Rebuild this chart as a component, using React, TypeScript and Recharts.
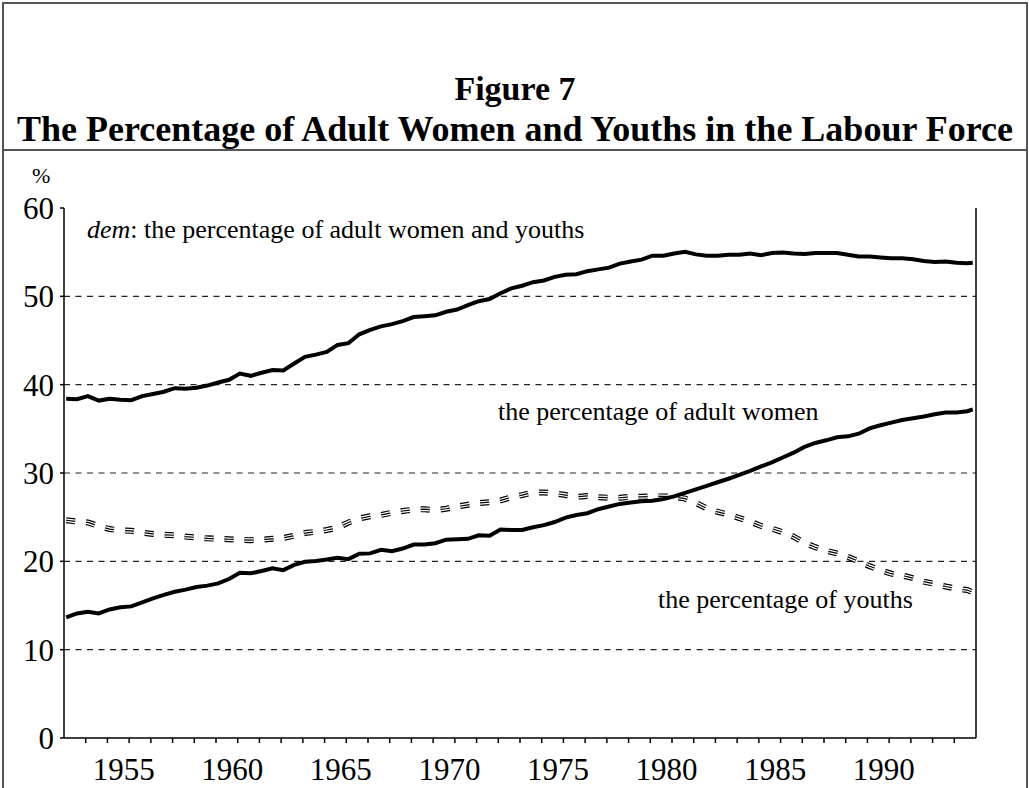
import { LineChart, Line, XAxis, YAxis, ReferenceLine } from "recharts";

// half-yearly observations (decimal years)
const PERIODS = [
  1952.35, 1952.85, 1953.35, 1953.85, 1954.35, 1954.85, 1955.35, 1955.85, 1956.35, 1956.85,
  1957.35, 1957.85, 1958.35, 1958.85, 1959.35, 1959.85, 1960.35, 1960.85, 1961.35, 1961.85,
  1962.35, 1962.85, 1963.35, 1963.85, 1964.35, 1964.85, 1965.35, 1965.85, 1966.35, 1966.85,
  1967.35, 1967.85, 1968.35, 1968.85, 1969.35, 1969.85, 1970.35, 1970.85, 1971.35, 1971.85,
  1972.35, 1972.85, 1973.35, 1973.85, 1974.35, 1974.85, 1975.35, 1975.85, 1976.35, 1976.85,
  1977.35, 1977.85, 1978.35, 1978.85, 1979.35, 1979.85, 1980.35, 1980.85, 1981.35, 1981.85,
  1982.35, 1982.85, 1983.35, 1983.85, 1984.35, 1984.85, 1985.35, 1985.85, 1986.35, 1986.85,
  1987.35, 1987.85, 1988.35, 1988.85, 1989.35, 1989.85, 1990.35, 1990.85, 1991.35, 1991.85,
  1992.35, 1992.85, 1993.35, 1993.85, 1994.1,
];

// dem: adult women + youths
const DEM = [
  38.4, 38.35, 38.7, 38.2, 38.4, 38.3, 38.25, 38.7, 38.95, 39.2,
  39.6, 39.55, 39.65, 39.9, 40.25, 40.55, 41.25, 41.0, 41.35, 41.65,
  41.6, 42.4, 43.15, 43.4, 43.7, 44.5, 44.7, 45.7, 46.2, 46.6,
  46.85, 47.2, 47.65, 47.75, 47.85, 48.25, 48.5, 49.0, 49.45, 49.7,
  50.35, 50.9, 51.2, 51.6, 51.8, 52.2, 52.45, 52.5, 52.85, 53.05,
  53.25, 53.7, 53.95, 54.15, 54.6, 54.6, 54.85, 55.05, 54.75, 54.6,
  54.6, 54.7, 54.7, 54.85, 54.65, 54.9, 54.95, 54.85, 54.8, 54.9,
  54.9, 54.9, 54.7, 54.5, 54.5, 54.4, 54.3, 54.3, 54.2, 54.0,
  53.9, 53.95, 53.8, 53.75, 53.8,
];

const WOMEN = [
  13.65, 14.1, 14.3, 14.1, 14.55, 14.8, 14.9, 15.35, 15.8, 16.2,
  16.55, 16.8, 17.1, 17.25, 17.5, 18.0, 18.7, 18.65, 18.9, 19.2,
  19.0, 19.6, 19.95, 20.05, 20.2, 20.4, 20.25, 20.85, 20.9, 21.3,
  21.15, 21.45, 21.9, 21.9, 22.05, 22.45, 22.5, 22.55, 22.95, 22.9,
  23.6, 23.55, 23.55, 23.85, 24.1, 24.45, 24.95, 25.25, 25.45, 25.9,
  26.2, 26.5, 26.65, 26.8, 26.85, 27.05, 27.35, 27.75, 28.15, 28.55,
  28.95, 29.35, 29.8, 30.25, 30.75, 31.2, 31.75, 32.3, 32.95, 33.4,
  33.7, 34.05, 34.15, 34.45, 35.05, 35.4, 35.7, 36.0, 36.2, 36.4,
  36.65, 36.85, 36.85, 37.0, 37.2,
];

const YOUTHS = [
  24.65, 24.5, 24.4, 24.0, 23.65, 23.5, 23.45, 23.25, 23.1, 23.0,
  22.95, 22.8, 22.7, 22.6, 22.55, 22.5, 22.45, 22.4, 22.45, 22.55,
  22.65, 22.9, 23.2, 23.35, 23.55, 23.8, 24.4, 24.85, 25.1, 25.25,
  25.5, 25.7, 25.85, 25.9, 25.8, 25.95, 26.2, 26.4, 26.6, 26.7,
  26.9, 27.25, 27.5, 27.8, 27.8, 27.7, 27.5, 27.3, 27.4, 27.25,
  27.2, 27.2, 27.3, 27.3, 27.35, 27.35, 27.3, 27.1, 26.6, 26.0,
  25.6, 25.3, 24.9, 24.5, 24.0, 23.7, 23.3, 22.8, 22.1, 21.6,
  21.2, 20.9, 20.5, 20.0, 19.45, 19.0, 18.6, 18.4, 18.1, 17.7,
  17.45, 17.15, 16.9, 16.75, 16.5,
];

const YEAR_LABELS = [1955, 1960, 1965, 1970, 1975, 1980, 1985, 1990];
const YEAR_MARKS = [
  1953.25, 1954.25, 1955.25, 1956.25, 1957.25, 1958.25, 1959.25, 1960.25, 1961.25, 1962.25,
  1963.25, 1964.25, 1965.25, 1966.25, 1967.25, 1968.25, 1969.25, 1970.25, 1971.25, 1972.25,
  1973.25, 1974.25, 1975.25, 1976.25, 1977.25, 1978.25, 1979.25, 1980.25, 1981.25, 1982.25,
  1983.25, 1984.25, 1985.25, 1986.25, 1987.25, 1988.25, 1989.25, 1990.25, 1991.25, 1992.25,
  1993.25,
];
const Y_TICKS = [0, 10, 20, 30, 40, 50, 60];
const GRID_VALUES = [10, 20, 30, 40, 50];

const SERIF = '"Liberation Serif", "Times New Roman", serif';

const data = PERIODS.map((t, i) => ({
  t,
  dem: DEM[i],
  women: WOMEN[i],
  youths: YOUTHS[i],
}));

// year marks get a small tick, label years get text only (like the excel category axis)
function YearTick(props: any) {
  const { x, y, payload } = props;
  const v = payload.value;
  if (YEAR_LABELS.includes(v)) {
    return (
      <text x={x} y={y + 42} textAnchor="middle" fontSize={31} fontFamily={SERIF} fill="#000">
        {v}
      </text>
    );
  }
  return <line x1={x} y1={y} x2={x} y2={y + 5} stroke="#000" strokeWidth={1.5} />;
}

const axisStyle = { stroke: "#000", strokeWidth: 1.5 };
const tickText = { fill: "#000", fontSize: 31, fontFamily: SERIF };

export default function App() {
  return (
    <div style={{ position: "absolute", left: 0, top: 0, width: 1029, height: 788, background: "#fff" }}>
      <LineChart width={1029} height={788} data={data} margin={{ top: 208, right: 0, bottom: 0, left: 0 }}>
        <XAxis
          dataKey="t"
          type="number"
          domain={[1952.25, 1994.25]}
          ticks={[...YEAR_MARKS, ...YEAR_LABELS]}
          interval={0}
          height={50}
          tickLine={false}
          tickSize={0}
          tickMargin={0}
          axisLine={axisStyle}
          tick={(p: any) => <YearTick {...p} />}
          allowDataOverflow
        />
        <YAxis
          yAxisId="left"
          domain={[0, 60]}
          ticks={Y_TICKS}
          interval={0}
          width={64}
          tickSize={4}
          tickMargin={6}
          axisLine={axisStyle}
          tickLine={axisStyle}
          tick={tickText}
        />
        <YAxis
          yAxisId="right"
          orientation="right"
          domain={[0, 60]}
          ticks={Y_TICKS}
          interval={0}
          width={53}
          tickSize={5}
          tickMargin={9}
          axisLine={axisStyle}
          tickLine={axisStyle}
          tick={tickText}
        />
        {GRID_VALUES.map((v) => (
          <ReferenceLine key={v} yAxisId="left" y={v} stroke="#222" strokeWidth={1.2} strokeDasharray="6 5.5" />
        ))}
        {/* youths: triple-stroke dashed line */}
        <Line yAxisId="left" type="linear" dataKey="youths" stroke="#000" strokeWidth={6} strokeDasharray="9 11" dot={false} isAnimationActive={false} />
        <Line yAxisId="left" type="linear" dataKey="youths" stroke="#fff" strokeWidth={3.6} strokeDasharray="9 11" dot={false} isAnimationActive={false} />
        <Line yAxisId="left" type="linear" dataKey="youths" stroke="#000" strokeWidth={1.2} strokeDasharray="9 11" dot={false} isAnimationActive={false} />
        <Line yAxisId="left" type="linear" dataKey="women" stroke="#000" strokeWidth={4} dot={false} isAnimationActive={false} />
        <Line yAxisId="left" type="linear" dataKey="dem" stroke="#000" strokeWidth={4} dot={false} isAnimationActive={false} />
      </LineChart>

      <svg
        width={1029}
        height={788}
        style={{ position: "absolute", left: 0, top: 0, pointerEvents: "none" }}
      >
        <rect x={3} y={3} width={1024} height={800} fill="none" stroke="#555" strokeWidth={2} />
        <line x1={3} y1={150} x2={1027} y2={150} stroke="#555" strokeWidth={2} />
        <text x={515} y={100} textAnchor="middle" fontSize={34} fontWeight="bold" fontFamily={SERIF} fill="#000">
          Figure 7
        </text>
        <text x={515} y={141} textAnchor="middle" fontSize={36} fontWeight="bold" fontFamily={SERIF} fill="#000">
          The Percentage of Adult Women and Youths in the Labour Force
        </text>
        <text x={32} y={183} fontSize={22} fontFamily={SERIF} fill="#000">%</text>
        <text x={87} y={238} fontSize={26} fontFamily={SERIF} fill="#000">
          <tspan fontStyle="italic">dem</tspan>: the percentage of adult women and youths
        </text>
        <text x={498} y={420} fontSize={26} fontFamily={SERIF} fill="#000">
          the percentage of adult women
        </text>
        <text x={658} y={608} fontSize={26} fontFamily={SERIF} fill="#000">
          the percentage of youths
        </text>
      </svg>
    </div>
  );
}
